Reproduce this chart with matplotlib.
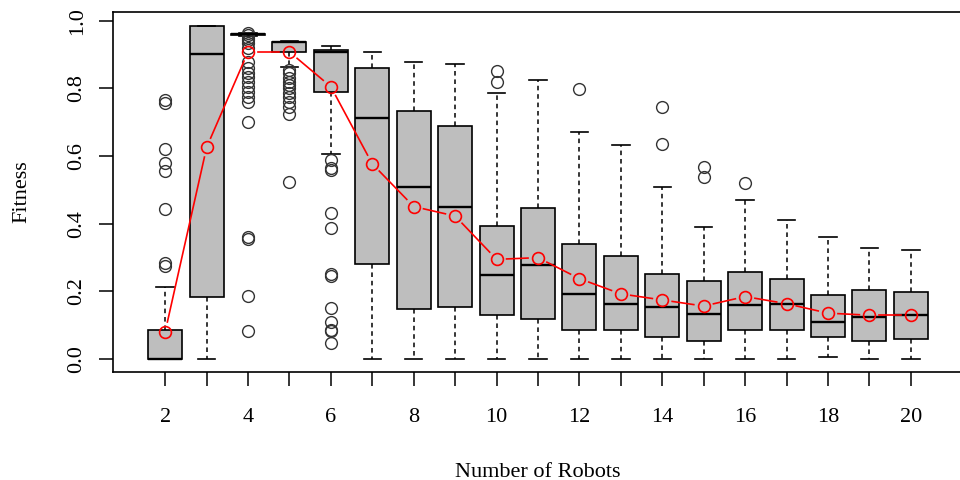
import matplotlib
matplotlib.use("Agg")
import matplotlib.pyplot as plt
import numpy as np

plt.rcParams['font.family'] = ['Liberation Serif', 'DejaVu Serif']

# number of robots and box statistics
robots = [2, 3, 4, 5, 6, 7, 8, 9, 10, 11, 12, 13, 14, 15, 16, 17, 18, 19, 20]
q1 = [0.0, 0.185, 0.958, 0.907, 0.789, 0.282, 0.148, 0.154, 0.13, 0.118,
      0.085, 0.085, 0.065, 0.055, 0.085, 0.085, 0.065, 0.055, 0.059]
med = [0.0, 0.902, 0.96, 0.936, 0.908, 0.713, 0.51, 0.45, 0.248, 0.278,
       0.194, 0.163, 0.154, 0.134, 0.159, 0.164, 0.109, 0.124, 0.13]
q3 = [0.085, 0.985, 0.962, 0.938, 0.915, 0.861, 0.732, 0.688, 0.395, 0.446,
      0.341, 0.306, 0.252, 0.232, 0.257, 0.238, 0.189, 0.203, 0.198]
whislo = [0.0, 0.0, 0.955, 0.862, 0.605, 0.0, 0.0, 0.0, 0.0, 0.0,
          0.0, 0.0, 0.0, 0.0, 0.0, 0.0, 0.006, 0.0, 0.0]
whishi = [0.214, 0.985, 0.963, 0.941, 0.926, 0.907, 0.877, 0.872, 0.786, 0.826,
          0.672, 0.633, 0.51, 0.391, 0.47, 0.41, 0.361, 0.328, 0.323]
outliers = [
    [0.766, 0.757, 0.62, 0.58, 0.556, 0.443, 0.283, 0.275],
    [],
    [0.965, 0.958, 0.95, 0.943, 0.933, 0.92, 0.879, 0.859, 0.845, 0.835,
     0.82, 0.805, 0.79, 0.776, 0.761, 0.70, 0.362, 0.356, 0.188, 0.084],
    [0.855, 0.845, 0.83, 0.82, 0.81, 0.80, 0.786, 0.776, 0.761, 0.746, 0.724, 0.525],
    [0.59, 0.564, 0.558, 0.431, 0.389, 0.251, 0.245, 0.151, 0.111, 0.087, 0.082, 0.047],
    [], [], [],
    [0.851, 0.82],
    [],
    [0.797],
    [],
    [0.746, 0.636],
    [0.567, 0.539],
    [0.52],
    [], [], [], [],
]
means = [0.081, 0.626, 0.908, 0.908, 0.805, 0.577, 0.451, 0.423, 0.295, 0.30,
         0.238, 0.193, 0.175, 0.157, 0.185, 0.164, 0.136, 0.13, 0.13]

fig = plt.figure(figsize=(9.6, 4.8), dpi=100)
ax = fig.add_axes([113 / 960, 1 - 371.7 / 480, 850 / 960, 359.4 / 480])

stats = []
for i in range(len(robots)):
    stats.append(dict(q1=q1[i], med=med[i], q3=q3[i], whislo=whislo[i],
                      whishi=whishi[i], fliers=outliers[i]))

ax.bxp(stats, positions=robots, widths=0.82, capwidths=0.42, patch_artist=True,
       showfliers=True,
       boxprops=dict(facecolor='#bebebe', edgecolor='black', linewidth=1.2),
       medianprops=dict(color='black', linewidth=1.7),
       whiskerprops=dict(color='black', linewidth=1.1, linestyle=(0, (3, 2.5))),
       capprops=dict(color='black', linewidth=1.2),
       flierprops=dict(marker='o', markerfacecolor='none', markeredgecolor='#333333',
                       markersize=8.5, markeredgewidth=1.0, linestyle='none'))

ax.set_xlim(0.74, 21.26)
ax.set_ylim(-0.037, 1.025)

# mean line drawn R "type b" style: segments stop short of the circles
fig.canvas.draw()
gap = 10.0
pts = ax.transData.transform(np.column_stack([robots, means]))
inv = ax.transData.inverted()
for a, b in zip(pts[:-1], pts[1:]):
    d = b - a
    L = np.hypot(*d)
    if L <= 2 * gap:
        continue
    u = d / L
    seg = inv.transform(np.vstack([a + u * gap, b - u * gap]))
    ax.plot(seg[:, 0], seg[:, 1], color='red', linewidth=1.2, zorder=5)
ax.plot(robots, means, linestyle='none', marker='o', markerfacecolor='none',
        markeredgecolor='red', markersize=8.5, markeredgewidth=1.2, zorder=6)

ax.set_xticks(robots)
ax.set_xticklabels([str(r) if r % 2 == 0 else '' for r in robots])
ax.set_yticks([0.0, 0.2, 0.4, 0.6, 0.8, 1.0])
ax.set_yticklabels(['0.0', '0.2', '0.4', '0.6', '0.8', '1.0'], rotation=90, va='center')
ax.tick_params(axis='x', length=10, width=1.1, pad=16, labelsize=16)
ax.tick_params(axis='y', length=10, width=1.1, pad=9, labelsize=16)
for s in ax.spines.values():
    s.set_linewidth(1.2)

ax.set_xlabel('Number of Robots', fontsize=16, labelpad=26)
ax.set_ylabel('Fitness', fontsize=16, labelpad=26)

fig.savefig('out.png', dpi=100)
